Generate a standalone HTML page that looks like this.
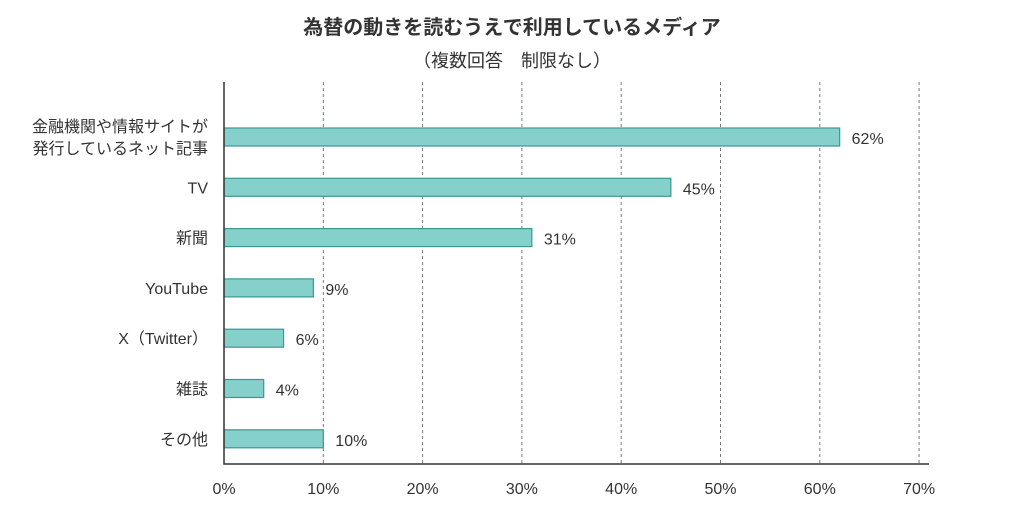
<!DOCTYPE html>
<html><head><meta charset="utf-8"><style>
body{margin:0;background:#fff;}
svg{display:block;font-family:"Liberation Sans","Noto Sans CJK JP",sans-serif;}
</style></head><body>
<svg id="c" width="1024" height="519">
<text x="512" y="34" text-anchor="middle" font-size="20" font-weight="bold" fill="#333">為替の動きを読むうえで利用しているメディア</text>
<text x="512" y="67" text-anchor="middle" font-size="18" fill="#333">（複数回答　制限なし）</text>
<g id="grid"></g><g id="bars"></g><g id="labels"></g>
</svg>
<script>
const categories=[["金融機関や情報サイトが","発行しているネット記事"],["TV"],["新聞"],["YouTube"],["X（Twitter）"],["雑誌"],["その他"]];
const values=[62,45,31,9,6,4,10];
const ticks=[0,10,20,30,40,50,60,70];
const ns="http://www.w3.org/2000/svg";
const svg=document.getElementById('c');
const x0=224,pxPer=9.93,yTop=82,yBot=464,y0=137,step=50.3,bh=18;
const X=v=>x0+v*pxPer;
const Y=i=>y0+i*step;
function mk(t,a,p){const e=document.createElementNS(ns,t);for(const k in a)e.setAttribute(k,a[k]);(p||svg).appendChild(e);return e;}
const grid=document.getElementById('grid'),bars=document.getElementById('bars'),labels=document.getElementById('labels');
ticks.forEach(t=>{
 if(t>0){const l=mk('line',{x1:X(t),x2:X(t),y1:yTop,y2:yBot,stroke:'#777','stroke-width':1,'stroke-dasharray':'3,3'},grid);
 
 }
 const tx=mk('text',{x:X(t),y:494,'text-anchor':'middle','font-size':16,fill:'#333'},labels);
 tx.textContent=t+'%';
 
 
});
values.forEach((v,i)=>{
 const r=mk('rect',{x:x0,y:Y(i)-bh/2,width:X(v)-x0,height:bh,fill:'#85d0cb',stroke:'#3a9891','stroke-width':1.2},bars);
 
 
 const vt=mk('text',{x:X(v)+12,y:Y(i)+7,'font-size':16,fill:'#333'},labels);
 vt.textContent=v+'%';
 
 
 const lines=categories[i];
 lines.forEach((s,j)=>{
  const ct=mk('text',{x:208,y:Y(i)+6+(j-(lines.length-1)/2)*22,'text-anchor':'end','font-size':16,fill:'#333'},labels);
  ct.textContent=s;
  
  
 });
});
const ax=mk('polyline',{points:`${x0},${yTop} ${x0},${yBot} ${X(71)},${yBot}`,fill:'none',stroke:'#333','stroke-width':1.5});


</script>
</body></html>
